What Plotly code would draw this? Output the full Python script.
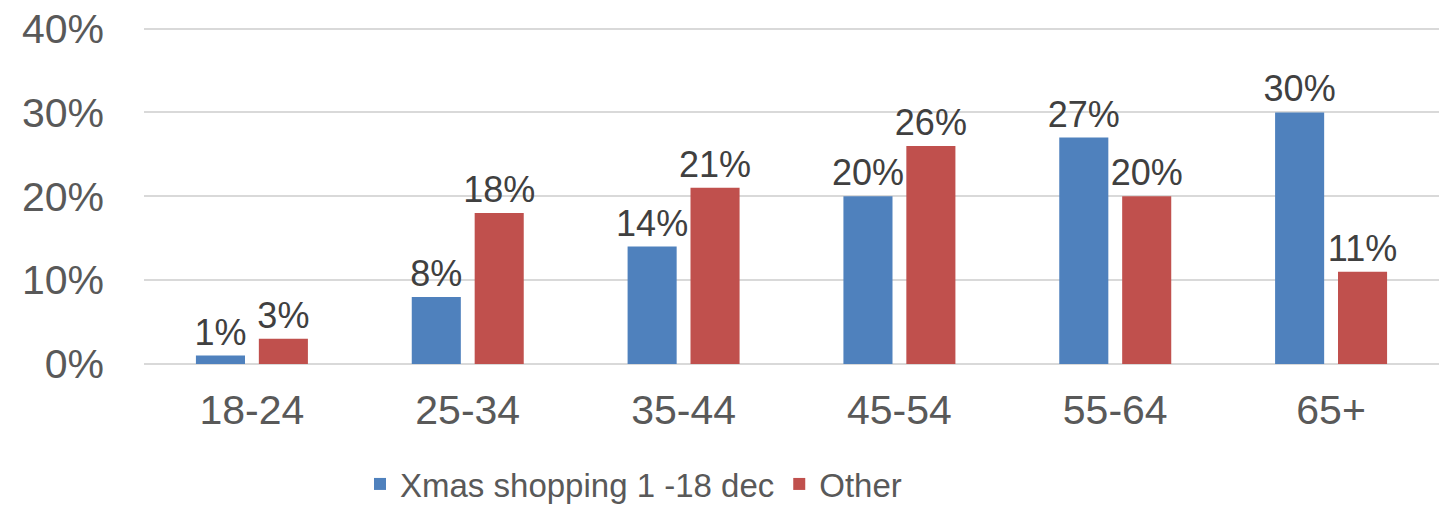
import plotly.graph_objects as go

categories = ["18-24", "25-34", "35-44", "45-54", "55-64", "65+"]
xmas = [0.01, 0.08, 0.14, 0.20, 0.27, 0.30]
other = [0.03, 0.18, 0.21, 0.26, 0.20, 0.11]
series_names = ["Xmas shopping 1 -18 dec", "Other"]
y_ticks = [0, 0.1, 0.2, 0.3, 0.4]

FONT = "Liberation Sans, Arial, sans-serif"

fig = go.Figure()
fig.add_trace(go.Bar(
    x=categories, y=xmas, name=series_names[0],
    marker=dict(color="#4F81BD", line=dict(width=0)),
    texttemplate="%{y:.0%}", textposition="outside", cliponaxis=False,
    constraintext="none",
    textfont=dict(family=FONT, size=36, color="#404040"),
))
fig.add_trace(go.Bar(
    x=categories, y=other, name=series_names[1],
    marker=dict(color="#C0504D", line=dict(width=0)),
    texttemplate="%{y:.0%}", textposition="outside", cliponaxis=False,
    constraintext="none",
    textfont=dict(family=FONT, size=36, color="#404040"),
))

fig.update_layout(
    width=1439, height=507,
    margin=dict(l=144, r=0, t=26, b=143, autoexpand=False),
    paper_bgcolor="white", plot_bgcolor="white",
    barmode="group", bargap=0.417, bargroupgap=0.22,
    font=dict(family=FONT, color="#595959"),
    showlegend=True,
    legend=dict(
        orientation="h", x=0.378, xanchor="center", y=-0.355, yanchor="middle",
        font=dict(family=FONT, size=33, color="#595959"),
        itemwidth=30, tracegroupgap=0,
    ),
)
fig.update_yaxes(
    range=[0, 0.403], tickvals=y_ticks, tickformat=".0%",
    showgrid=True, gridcolor="#D9D9D9", gridwidth=2,
    zeroline=True, zerolinecolor="#D9D9D9", zerolinewidth=2,
    showline=False, ticks="", ticklabelstandoff=39,
    tickfont=dict(family=FONT, size=41, color="#595959"),
)
fig.update_xaxes(
    showline=False, ticks="", ticklabelstandoff=18,
    tickfont=dict(family=FONT, size=41, color="#595959"),
)

fig.write_html("out.html")
